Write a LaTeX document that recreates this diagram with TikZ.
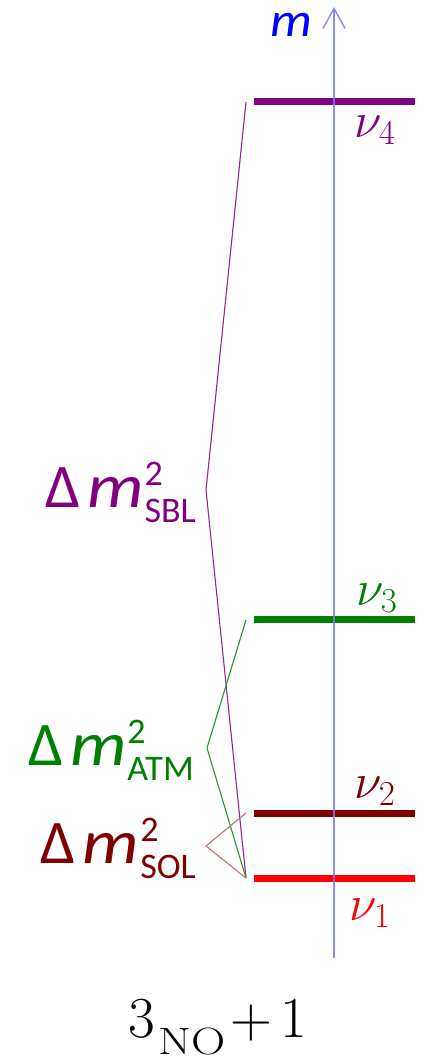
\documentclass[tikz,border=0pt]{standalone}
\usepackage{fix-cm}
\usepackage{fontspec}
\usepackage{graphicx}
\newfontfamily\cali{Carlito}
\usetikzlibrary{arrows.meta}
\definecolor{nupurple}{RGB}{128,0,128}
\definecolor{nugreen}{RGB}{0,128,0}
\definecolor{nudark}{RGB}{128,0,0}
\definecolor{nured}{RGB}{255,0,0}
\definecolor{axblue}{RGB}{120,120,255}
\definecolor{mblue}{RGB}{0,0,255}
\newcommand{\dmsq}[1]{{\cali\fontsize{62}{62}\selectfont Δ\hspace{7pt}\scalebox{1.15}[1]{\textit{m}}}\hspace{1pt}\rlap{\raisebox{22pt}{\cali\fontsize{36}{36}\selectfont 2}}\raisebox{-15pt}{\cali\fontsize{36}{36}\selectfont #1}}
\begin{document}
\begin{tikzpicture}[x=1pt,y=-1pt,
  levelline/.style={line width=7pt},
  brk/.style={line width=1.1pt, line join=miter},
  dlab/.style={anchor=base east, inner sep=0pt},
  nulab/.style={font=\fontsize{50}{50}\selectfont, inner sep=0pt}]
\useasboundingbox (0,0) rectangle (423,1062);
% level end points
\coordinate (l4a) at (254,102); \coordinate (l4b) at (415,102);
\coordinate (l3a) at (254,619); \coordinate (l3b) at (415,619);
\coordinate (l2a) at (254,813); \coordinate (l2b) at (415,813);
\coordinate (l1a) at (254,878); \coordinate (l1b) at (415,878);
% bracket points
\coordinate (b4) at (246,102);
\coordinate (b3) at (246,620);
\coordinate (b2) at (246,813);
\coordinate (b1) at (246,878);
\coordinate (vsbl) at (206,490);
\coordinate (vatm) at (207,748);
\coordinate (vsol) at (206,846);
% levels
\draw[levelline, nupurple] (l4a) -- (l4b);
\draw[levelline, nugreen] (l3a) -- (l3b);
\draw[levelline, nudark] (l2a) -- (l2b);
\draw[levelline, nured] (l1a) -- (l1b);
% axis
\coordinate (ax0) at (334,958); \coordinate (ax1) at (334,7);
\draw[axblue, line width=1.4pt, opacity=0.85, -{Straight Barb[length=20pt,width=22pt]}] (ax0) -- (ax1);
\node[text=mblue, inner sep=0pt] (mlab) at (291,25) {\cali\fontsize{48}{48}\selectfont\scalebox{1.1}[1]{\textit{m}}};
% brackets
\draw[brk, nupurple!85] (b4) -- (vsbl) -- (b1);
\draw[brk, nugreen!85] (b3) -- (vatm) -- (b1);
\draw[brk, nudark!55] (b2) -- (vsol) -- (b1);
% labels
\node[nulab, text=nupurple] (n4) at (375,130) {$\nu_4$};
\node[nulab, text=nugreen] (n3) at (377,598) {$\nu_3$};
\node[nulab, text=nudark] (n2) at (375,791) {$\nu_2$};
\node[nulab, text=nured] (n1) at (370,913) {$\nu_1$};
\node[dlab, text=nupurple] (dsbl) at (196,507) {\dmsq{SBL}};
\node[dlab, text=nugreen] (datm) at (194,765) {\dmsq{ATM}};
\node[dlab, text=nudark] (dsol) at (196,863) {\dmsq{SOL}};
\node[inner sep=0pt, anchor=base] (title) at (218,1037) {\fontsize{58}{58}\selectfont 3\hspace{3pt}\raisebox{-17pt}{\scalebox{1.25}[1]{\fontsize{38}{38}\selectfont NO}}\hspace{5pt}+\hspace{8pt}1};
\end{tikzpicture}
\end{document}
